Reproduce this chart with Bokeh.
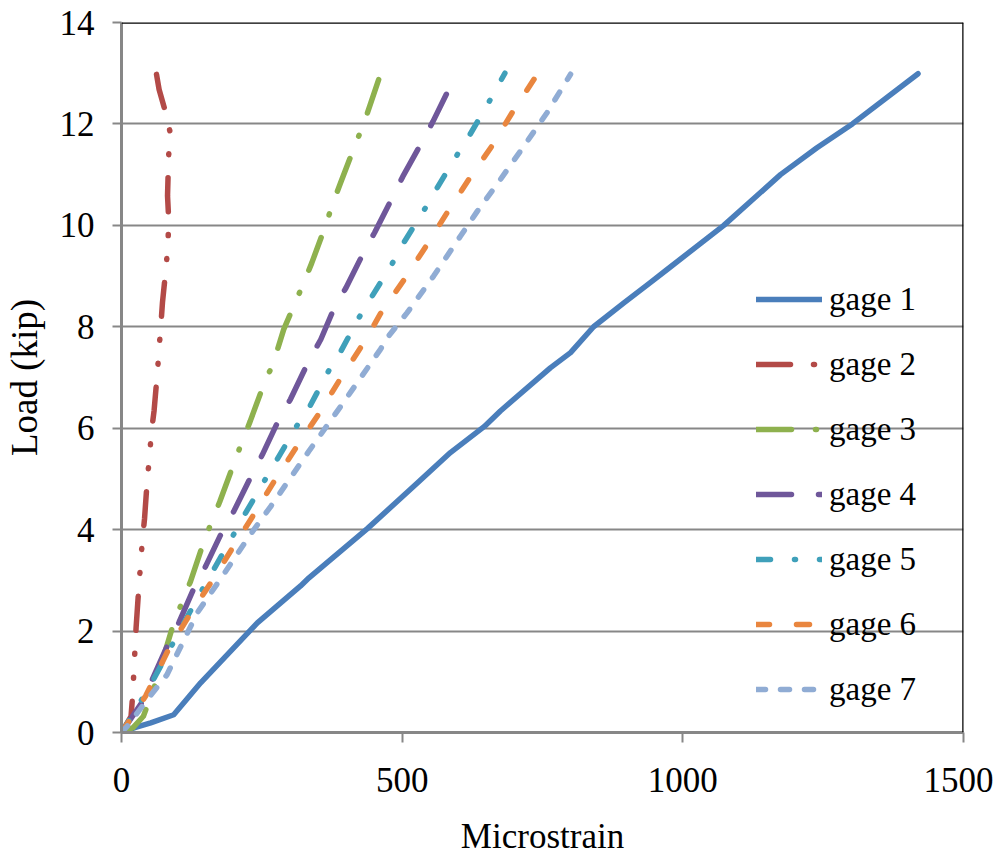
from bokeh.plotting import figure
from bokeh.models import Range1d, FixedTicker, Span, Legend, LegendItem
from bokeh.embed import file_html
from bokeh.resources import INLINE

# ---- data ----
x_ticks = [0, 500, 1000, 1500]
y_ticks = [0, 2, 4, 6, 8, 10, 12, 14]
series_names = ["gage 1", "gage 2", "gage 3", "gage 4", "gage 5", "gage 6", "gage 7"]

g1_x = [0, 25, 52, 93, 141, 242, 319, 334, 438, 527, 586, 646, 675, 764, 800, 841, 895, 942, 972, 1073, 1174, 1239, 1302, 1419]
g1_y = [0, 0.1, 0.19, 0.35, 0.98, 2.16, 2.89, 3.05, 4.02, 4.92, 5.52, 6.03, 6.34, 7.19, 7.49, 8.0, 8.47, 8.87, 9.13, 10.0, 11.0, 11.53, 12.0, 12.99]

g2_x = [0, 17, 20, 22, 24, 26, 31, 34, 37, 41, 46, 50, 53, 58, 64, 67, 70, 73, 80, 83, 84, 82, 84, 87, 78, 67, 62]
g2_y = [0, 0.32, 0.75, 1.2, 1.64, 2.07, 2.89, 3.32, 3.77, 4.21, 5.0, 5.44, 5.9, 6.34, 7.11, 7.57, 8.01, 8.48, 9.24, 9.69, 10.14, 10.58, 11.38, 11.82, 12.25, 12.68, 13.0]

g3_x = [0, 21, 39, 46, 61, 93, 108, 123, 146, 160, 175, 200, 214, 229, 254, 270, 289, 324, 339, 364, 376, 390, 416, 431, 444, 462]
g3_y = [0, 0.1, 0.32, 0.53, 0.98, 2.16, 2.57, 2.98, 3.74, 4.14, 4.55, 5.3, 5.71, 6.13, 6.88, 7.27, 7.95, 8.85, 9.26, 10.01, 10.42, 10.83, 11.58, 11.99, 12.41, 13.0]

g4_x = [0, 40, 55, 84, 102, 132, 150, 181, 200, 233, 251, 282, 301, 332, 355, 380, 400, 432, 451, 484, 501, 536, 555, 586]
g4_y = [0, 0.65, 1.05, 1.77, 2.16, 2.92, 3.28, 4.0, 4.36, 5.1, 5.48, 6.21, 6.57, 7.29, 7.75, 8.4, 8.77, 9.48, 9.86, 10.58, 10.96, 11.66, 12.05, 12.75]

g5_x = [0, 50, 111, 145, 164, 200, 219, 255, 277, 312, 334, 368, 389, 423, 444, 481, 500, 538, 558, 595, 616, 653, 683]
g5_y = [0, 0.9, 2.16, 2.84, 3.21, 3.91, 4.29, 4.97, 5.38, 6.04, 6.4, 7.11, 7.48, 8.18, 8.56, 9.22, 9.61, 10.28, 10.66, 11.34, 11.7, 12.4, 13.0]

g6_x = [0, 19, 43, 84, 123, 162, 199, 237, 274, 313, 352, 389, 426, 447, 463, 503, 542, 580, 619, 659, 697, 742]
g6_y = [0, 0.32, 0.72, 1.64, 2.35, 3.0, 3.66, 4.32, 4.99, 5.65, 6.29, 6.96, 7.59, 7.98, 8.29, 8.92, 9.58, 10.25, 10.91, 11.55, 12.24, 13.0]

g7_x = [0, 10, 46, 81, 135, 182, 230, 266, 334, 393, 461, 476, 509, 556, 604, 634, 669, 711, 758, 800]
g7_y = [0, 0.12, 0.65, 1.14, 2.36, 3.12, 3.91, 4.46, 5.55, 6.47, 7.55, 7.82, 8.28, 9.0, 9.79, 10.28, 10.81, 11.47, 12.22, 12.98]

xs = [g1_x, g2_x, g3_x, g4_x, g5_x, g6_x, g7_x]
ys = [g1_y, g2_y, g3_y, g4_y, g5_y, g6_y, g7_y]

# ---- styles ----
colors = ["#4A7EBB", "#B34A47", "#8EB14E", "#6F579A", "#3FA0BA", "#E9863F", "#90ACD4"]
dashes = ["solid", "34 23 1 23 1 23", "35 24 1 24", "35 27", "14 24 1 24", "13 27", "9 15"]
FONT = "Liberation Serif"
GRAY = "#878787"

p = figure(frame_width=842, frame_height=710,
           min_border_left=120, min_border_right=30, min_border_top=22, min_border_bottom=126,
           x_range=Range1d(0, 1500), y_range=Range1d(0, 14),
           output_backend="svg", toolbar_location=None,
           background_fill_color="white", border_fill_color="white")
p.outline_line_color = None

renderers = []
for x, y, c, d in zip(xs, ys, colors, dashes):
    r = p.line(x, y, line_color=c, line_width=5.5, line_dash=d,
               line_cap="round", line_join="round")
    renderers.append(r)

# axes
p.xaxis.ticker = FixedTicker(ticks=x_ticks)
p.yaxis.ticker = FixedTicker(ticks=y_ticks)
for ax in (p.xaxis[0], p.yaxis[0]):
    ax.axis_line_color = GRAY
    ax.axis_line_width = 3
    ax.major_tick_line_color = GRAY
    ax.major_tick_line_width = 2
    ax.major_tick_in = 0
    ax.minor_tick_line_color = None
    ax.major_label_text_font = FONT
    ax.major_label_text_font_size = "35px"
    ax.major_label_text_color = "black"
    ax.axis_label_text_font = FONT
    ax.axis_label_text_font_style = "normal"
    ax.axis_label_text_color = "black"
p.xaxis.axis_label_text_font_size = "35px"
p.yaxis.axis_label_text_font_size = "37px"
p.xaxis.major_tick_out = 10
p.yaxis.major_tick_out = 9
p.xaxis.major_label_standoff = 25
p.yaxis.major_label_standoff = 18
p.xaxis.axis_label = "Microstrain"
p.yaxis.axis_label = "Load (kip)"
p.xaxis.axis_label_standoff = 22
p.yaxis.axis_label_standoff = 12

p.xgrid.grid_line_color = None
p.ygrid.ticker = FixedTicker(ticks=y_ticks)
p.ygrid.grid_line_color = GRAY
p.ygrid.grid_line_width = 2

# top and right black border of plot area
p.add_layout(Span(location=14, dimension="width", line_color="black", line_width=2.5))
p.add_layout(Span(location=1500, dimension="height", line_color="black", line_width=2.5))

items = [LegendItem(label=n, renderers=[r]) for n, r in zip(series_names, renderers)]
legend = Legend(items=items, location=(635, 23),
                glyph_width=66, glyph_height=40, label_height=40,
                label_standoff=7, spacing=25, padding=0, margin=0,
                label_text_font=FONT, label_text_font_size="33px",
                label_text_color="black",
                background_fill_alpha=0, border_line_color=None)
p.add_layout(legend)

open("out.html", "w").write(file_html(p, INLINE))
